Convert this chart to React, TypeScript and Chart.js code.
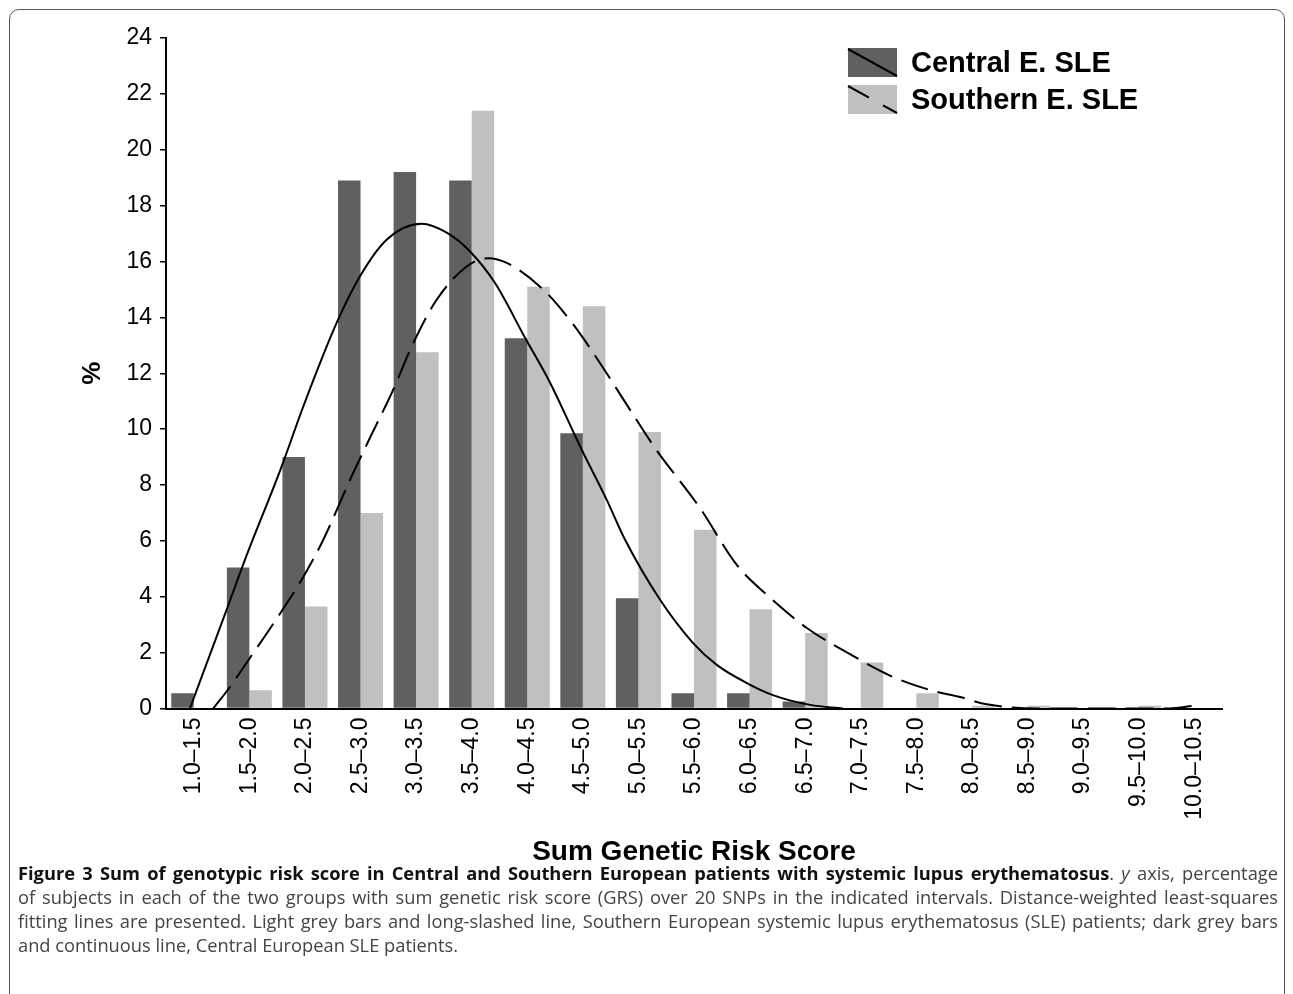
import React, { useEffect, useRef } from "react";
import { Chart, registerables } from "chart.js";

Chart.register(...registerables);

// ---------- data ----------
const categories = [
  "1.0–1.5", "1.5–2.0", "2.0–2.5", "2.5–3.0", "3.0–3.5", "3.5–4.0", "4.0–4.5",
  "4.5–5.0", "5.0–5.5", "5.5–6.0", "6.0–6.5", "6.5–7.0", "7.0–7.5", "7.5–8.0",
  "8.0–8.5", "8.5–9.0", "9.0–9.5", "9.5–10.0", "10.0–10.5",
];
const centralLabel = "Central E. SLE";
const southernLabel = "Southern E. SLE";
const centralValues = [0.55, 5.05, 9.0, 18.9, 19.2, 18.9, 13.25, 9.85, 3.95, 0.55, 0.55, 0.25, 0, 0, 0, 0, 0, 0, 0];
const southernValues = [0, 0.65, 3.65, 7.0, 12.75, 21.4, 15.1, 14.4, 9.9, 6.4, 3.55, 2.7, 1.65, 0.55, 0.1, 0.1, 0, 0.1, 0];

// fitted curves (x in category-index units)
const centralFitX = [-0.07, 0.59, 0.92, 1.58, 1.97, 2.57, 2.99, 3.47, 4.1, 4.55, 4.97, 5.42, 5.96, 6.41, 6.98, 7.43, 7.76, 8.39, 8.98, 9.41, 9.95, 10.42, 11.09, 11.68];
const centralFitY = [0, 3.53, 5.32, 8.66, 10.81, 13.8, 15.47, 16.78, 17.35, 17.03, 16.36, 15.23, 13.27, 11.66, 9.26, 7.47, 6.04, 3.89, 2.35, 1.56, 0.91, 0.48, 0.13, 0];
const southernFitX = [0.35, 0.65, 1.01, 1.5, 1.97, 2.33, 2.81, 3.17, 3.56, 3.95, 4.37, 4.91, 5.3, 5.63, 6.29, 6.83, 7.31, 7.85, 8.3, 9.1, 9.77, 10.31, 11.03, 11.68, 12.58, 13.25, 13.79, 14.24, 15.2, 17.55, 18.0];
const southernFitY = [0, 0.77, 1.81, 3.24, 4.71, 6.04, 8.18, 9.69, 11.29, 13.08, 14.63, 15.82, 16.12, 15.95, 14.99, 13.74, 12.36, 10.69, 9.32, 7.2, 5.14, 4.07, 2.88, 2.09, 1.13, 0.66, 0.41, 0.16, 0, 0, 0.1];

const yMin = 0;
const yMax = 24;
const yStep = 2;
const xTitle = "Sum Genetic Risk Score";
const yTitle = "%";

const DARK = "#606060";
const LIGHT = "#c0c0c0";
const AXIS_FONT = "'Liberation Sans', Arial, sans-serif";

const legendPlugin = {
  id: "boxLegend",
  afterDraw(chart: any) {
    const { ctx, chartArea } = chart;
    const bx = chartArea.right - 374;
    const by = chartArea.top + 10;
    const bw = 49;
    const bh = 29;
    const gap = 37;
    const items = [
      { label: chart.data.datasets[0].label, color: chart.data.datasets[0].backgroundColor, dash: [] as number[] },
      { label: chart.data.datasets[1].label, color: chart.data.datasets[1].backgroundColor, dash: [24, 16] },
    ];
    ctx.save();
    items.forEach((it, i) => {
      const y = by + i * gap;
      ctx.fillStyle = it.color;
      ctx.fillRect(bx, y, bw, bh);
      ctx.strokeStyle = "#000";
      ctx.lineWidth = 2;
      ctx.setLineDash(it.dash);
      ctx.beginPath();
      ctx.moveTo(bx, y + 1);
      ctx.lineTo(bx + bw, y + bh - 1);
      ctx.stroke();
      ctx.setLineDash([]);
      ctx.fillStyle = "#000";
      ctx.font = `bold 29px ${AXIS_FONT}`;
      ctx.textBaseline = "middle";
      ctx.textAlign = "left";
      ctx.fillText(it.label, bx + bw + 14, y + bh / 2 + 1);
    });
    ctx.restore();
  },
};

function FigureChart() {
  const ref = useRef<HTMLCanvasElement | null>(null);
  useEffect(() => {
    if (!ref.current) return;
    const chart = new Chart(ref.current, {
      type: "bar",
      data: {
        datasets: [
          {
            type: "bar",
            label: centralLabel,
            data: centralValues.map((y, i) => ({ x: i, y })),
            backgroundColor: DARK,
            borderWidth: 0,
            order: 2,
            categoryPercentage: 0.81,
            barPercentage: 1,
          },
          {
            type: "bar",
            label: southernLabel,
            data: southernValues.map((y, i) => ({ x: i, y })),
            backgroundColor: LIGHT,
            borderWidth: 0,
            order: 2,
            categoryPercentage: 0.81,
            barPercentage: 1,
          },
          {
            type: "line",
            label: centralLabel + " fit",
            data: centralFitX.map((x, i) => ({ x, y: centralFitY[i] })),
            borderColor: "#000",
            borderWidth: 2,
            pointRadius: 0,
            fill: false,
            cubicInterpolationMode: "monotone",
            order: 0,
          },
          {
            type: "line",
            label: southernLabel + " fit",
            data: southernFitX.map((x, i) => ({ x, y: southernFitY[i] })),
            borderColor: "#000",
            borderWidth: 2,
            borderDash: [28, 10],
            pointRadius: 0,
            fill: false,
            cubicInterpolationMode: "monotone",
            order: 0,
          },
        ] as any,
      },
      options: {
        animation: false,
        responsive: true,
        maintainAspectRatio: false,
        layout: { padding: { left: 75, right: 71, top: 38, bottom: 12 } },
        plugins: { legend: { display: false }, tooltip: { enabled: false } },
        scales: {
          x: {
            type: "linear",
            offset: false,
            min: -0.5,
            max: categories.length - 0.5,
            grid: { display: false, drawTicks: false },
            border: { display: true, color: "#000", width: 2 },
            afterBuildTicks(scale: any) {
              scale.ticks = categories.map((_, i) => ({ value: i }));
            },
            ticks: {
              autoSkip: false,
              minRotation: 90,
              maxRotation: 90,
              padding: 9,
              color: "#000",
              font: { family: AXIS_FONT, size: 23 },
              callback: (v: any) => categories[Math.round(Number(v))] ?? "",
            },
            title: {
              display: true,
              text: xTitle,
              color: "#000",
              font: { family: AXIS_FONT, size: 28, weight: "bold" },
              padding: { top: 4, bottom: 4 },
            },
            afterFit(scale: any) {
              scale.height = 164.5;
            },
          },
          y: {
            min: yMin,
            max: yMax,
            stacked: false,
            ticks: {
              stepSize: yStep,
              padding: 8,
              color: "#000",
              font: { family: AXIS_FONT, size: 23 },
            },
            grid: { drawOnChartArea: false, drawTicks: true, tickLength: 6, color: "#000", lineWidth: 1.5 },
            border: { display: true, color: "#000", width: 2 },
            title: {
              display: true,
              text: yTitle,
              color: "#000",
              font: { family: AXIS_FONT, size: 26, weight: "bold" },
              padding: { top: 2, bottom: 2 },
            },
            afterFit(scale: any) {
              scale.width = 91;
            },
          },
        },
      } as any,
      plugins: [legendPlugin],
    });
    return () => chart.destroy();
  }, []);
  return <canvas ref={ref} />;
}

const lineStyle: React.CSSProperties = {
  textAlign: "justify",
  textAlignLast: "justify" as any,
  whiteSpace: "nowrap",
  height: 24,
  lineHeight: "24px",
};

export default function App() {
  useEffect(() => {
    document.body.style.margin = "0";
  }, []);
  return (
    <div style={{ position: "relative", width: 1293, height: 994, overflow: "hidden", background: "#fff" }}>
      <div
        style={{
          position: "absolute",
          left: 9,
          top: 9,
          width: 1276,
          height: 1020,
          border: "1.5px solid #555",
          borderRadius: 10,
          boxSizing: "border-box",
        }}
      />
      <div style={{ position: "absolute", left: 0, top: 0, width: 1293, height: 885 }}>
        <FigureChart />
      </div>
      <div
        style={{
          position: "absolute",
          left: 18,
          top: 861,
          width: 1260,
          fontFamily: "'Open Sans', sans-serif",
          fontSize: 18.3,
          color: "#444",
        }}
      >
        <div style={lineStyle}>
          <b style={{ color: "#111" }}>
            Figure 3 Sum of genotypic risk score in Central and Southern European patients with systemic lupus erythematosus
          </b>
          . <i>y</i> axis, percentage
        </div>
        <div style={lineStyle}>
          of subjects in each of the two groups with sum genetic risk score (GRS) over 20 SNPs in the indicated intervals. Distance-weighted least-squares
        </div>
        <div style={lineStyle}>
          fitting lines are presented. Light grey bars and long-slashed line, Southern European systemic lupus erythematosus (SLE) patients; dark grey bars
        </div>
        <div style={{ ...lineStyle, textAlign: "left", textAlignLast: "left" as any }}>
          and continuous line, Central European SLE patients.
        </div>
      </div>
    </div>
  );
}
